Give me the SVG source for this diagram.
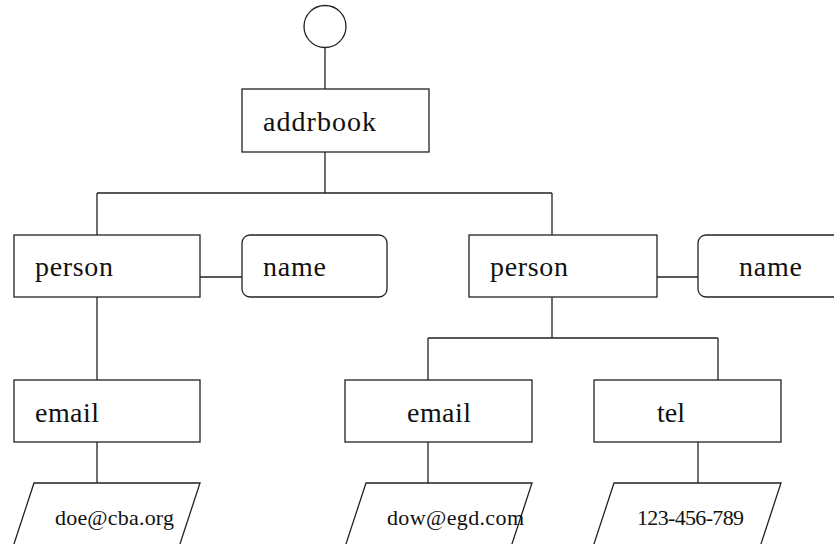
<svg xmlns="http://www.w3.org/2000/svg" width="834" height="544" viewBox="0 0 834 544">
  <style>
    .box { fill: #ffffff; stroke: #222222; stroke-width: 1.3; }
    .wire { fill: none; stroke: #222222; stroke-width: 1.3; }
    .lbl { font-family: "Liberation Serif", "Times New Roman", serif; font-size: 28px; fill: #111111; }
    .val { font-family: "Liberation Serif", "Times New Roman", serif; font-size: 22px; fill: #111111; }
  </style>
  <rect width="834" height="544" fill="#ffffff"/>

  <!-- connectors -->
  <g id="connectors" class="wire">
    <path d="M325,47.5 V89"/>
    <path d="M325,152 V193 M97,193 H552 M97,193 V235 M552,193 V235"/>
    <path d="M200,277 H242"/>
    <path d="M657,277 H698"/>
    <path d="M97,297 V380"/>
    <path d="M552,297 V338 M428,338 H718 M428,338 V380 M718,338 V380"/>
    <path d="M97,442 V483"/>
    <path d="M428,442 V483"/>
    <path d="M698,442 V483"/>
  </g>

  <!-- root -->
  <g id="root">
    <circle class="box" cx="325" cy="26.5" r="21"/>
  </g>

  <g id="addrbook">
    <rect class="box" x="242" y="89" width="187" height="63"/>
    <text class="lbl" x="263" y="131" textLength="113">addrbook</text>
  </g>

  <g id="person1">
    <rect class="box" x="14" y="235" width="186" height="62"/>
    <text class="lbl" x="35" y="276" textLength="78">person</text>
  </g>
  <g id="name1">
    <rect class="box" x="242" y="235" width="145" height="62" rx="8" ry="8"/>
    <text class="lbl" x="263" y="276" textLength="63">name</text>
  </g>

  <g id="person2">
    <rect class="box" x="469" y="235" width="188" height="62"/>
    <text class="lbl" x="490" y="276" textLength="78">person</text>
  </g>
  <g id="name2">
    <rect class="box" x="698" y="235" width="146" height="62" rx="8" ry="8"/>
    <text class="lbl" x="739" y="276" textLength="63">name</text>
  </g>

  <g id="email1">
    <rect class="box" x="14" y="380" width="186" height="62"/>
    <text class="lbl" x="35" y="422" textLength="64">email</text>
  </g>
  <g id="email2">
    <rect class="box" x="345" y="380" width="187" height="62"/>
    <text class="lbl" x="407" y="422" textLength="64">email</text>
  </g>
  <g id="tel">
    <rect class="box" x="594" y="380" width="187" height="62"/>
    <text class="lbl" x="657" y="422" textLength="28">tel</text>
  </g>

  <!-- value leaves -->
  <g id="value1">
    <polygon class="box" points="34,483 200,483 178,550 12,550"/>
    <text class="val" x="55" y="525" textLength="119">doe@cba.org</text>
  </g>
  <g id="value2">
    <polygon class="box" points="366,483 532,483 510,550 344,550"/>
    <text class="val" x="387" y="525" textLength="137">dow@egd.com</text>
  </g>
  <g id="value3">
    <polygon class="box" points="614,483 781,483 759,550 592,550"/>
    <text class="val" x="637" y="525" textLength="107">123-456-789</text>
  </g>
</svg>
